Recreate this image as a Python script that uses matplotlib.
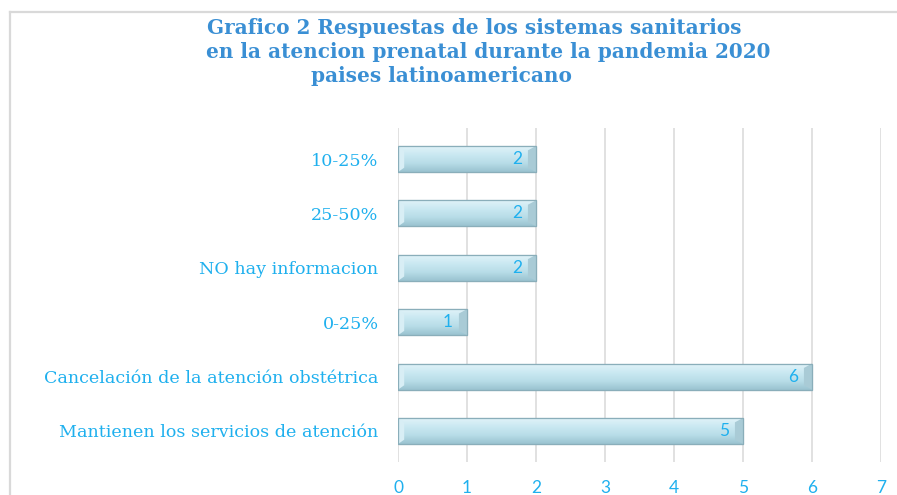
import matplotlib
matplotlib.use("Agg")
import matplotlib.pyplot as plt
import numpy as np
from matplotlib.lines import Line2D
from matplotlib.patches import Rectangle, Polygon
from matplotlib.colors import LinearSegmentedColormap

categories = ["10-25%", "25-50%", "NO hay informacion", "0-25%",
              "Cancelación de la atención obstétrica",
              "Mantienen los servicios de atención"]
values = [2, 2, 2, 1, 6, 5]
xticks = [0, 1, 2, 3, 4, 5, 6, 7]
title_lines = ["Grafico 2 Respuestas de los sistemas sanitarios",
               "en la atencion prenatal durante la pandemia 2020",
               "paises latinoamericano"]

label_color = "#1fb0ee"
title_color = "#3a8fd4"
serif = ["DejaVu Serif"]
sans = ["Lato", "DejaVu Sans"]

fig = plt.figure(figsize=(8.97, 4.95), dpi=100)
ax = fig.add_axes([398/897, 1-462/495, (881-398)/897, (462-128)/495])

y = np.arange(len(categories))
h = 0.48
bars = ax.barh(y, values, height=h, color="#c4e5ef", edgecolor="#8fb3bf",
               linewidth=0.8, zorder=3)

grad = np.linspace(0, 1, 64).reshape(-1, 1)
cmap = LinearSegmentedColormap.from_list("b", ["#e3f4f9", "#cbe9f2", "#b8dde8", "#9ac3d0"])
for b, v, yi in zip(bars, values, y):
    im = ax.imshow(grad, extent=(0, v, yi + h/2, yi - h/2), aspect="auto",
                   cmap=cmap, zorder=3.5)
    im.set_clip_path(b)
    d = 0.09
    ax.add_patch(Polygon([(v, yi - h/2), (v, yi + h/2), (v - d*1.3, yi + h/2 - d*0.9),
                          (v - d*1.3, yi - h/2 + d*0.9)], closed=True,
                         facecolor="#a9cbd6", edgecolor="none", zorder=3.6))
    ax.add_patch(Polygon([(0, yi - h/2), (0, yi + h/2), (d*1.0, yi + h/2 - d*0.9),
                          (d*1.0, yi - h/2 + d*0.9)], closed=True,
                         facecolor="#d8eef5", edgecolor="none", zorder=3.6))
    ax.add_patch(Rectangle((0, yi - h/2), v, h, facecolor="none",
                           edgecolor="#8aaeba", linewidth=0.9, zorder=3.8))
    ax.annotate(str(v), xy=(v, yi), xytext=(-10, 0), textcoords="offset points",
                ha="right", va="center", fontsize=12.5, color=label_color,
                family=sans, zorder=5)

ax.set_xlim(0, 7)
ax.set_ylim(len(categories) - 1 + 0.57, -0.57)
ax.set_xticks(xticks)
ax.set_yticks(y)
ax.set_yticklabels(categories, fontsize=12.6, color=label_color, family=serif)
ax.tick_params(axis="both", length=0)
ax.tick_params(axis="y", pad=14)
ax.tick_params(axis="x", pad=13, labelsize=12.5, labelcolor=label_color)
for t in ax.get_xticklabels():
    t.set_family(sans)
ax.grid(axis="x", color="#d9d9d9", linewidth=1.1, zorder=0)
ax.set_axisbelow(True)
for s in ax.spines.values():
    s.set_visible(False)

fig.text(474/897, 1-28/495, title_lines[0], ha="center", va="center",
         fontsize=14.4, fontweight="bold", color=title_color, family=serif)
fig.text(488/897, 1-52/495, title_lines[1], ha="center", va="center",
         fontsize=14.4, fontweight="bold", color=title_color, family=serif)
fig.text(441/897, 1-76/495, title_lines[2], ha="center", va="center",
         fontsize=14.4, fontweight="bold", color=title_color, family=serif)

fig.add_artist(Line2D([10/897, 896/897], [1-12/495, 1-12/495], color="#d9d9d9",
                      linewidth=1.6, transform=fig.transFigure))
fig.add_artist(Line2D([10/897, 10/897], [1-12/495, 0], color="#d9d9d9",
                      linewidth=1.6, transform=fig.transFigure))

fig.savefig("out.png", dpi=100)
